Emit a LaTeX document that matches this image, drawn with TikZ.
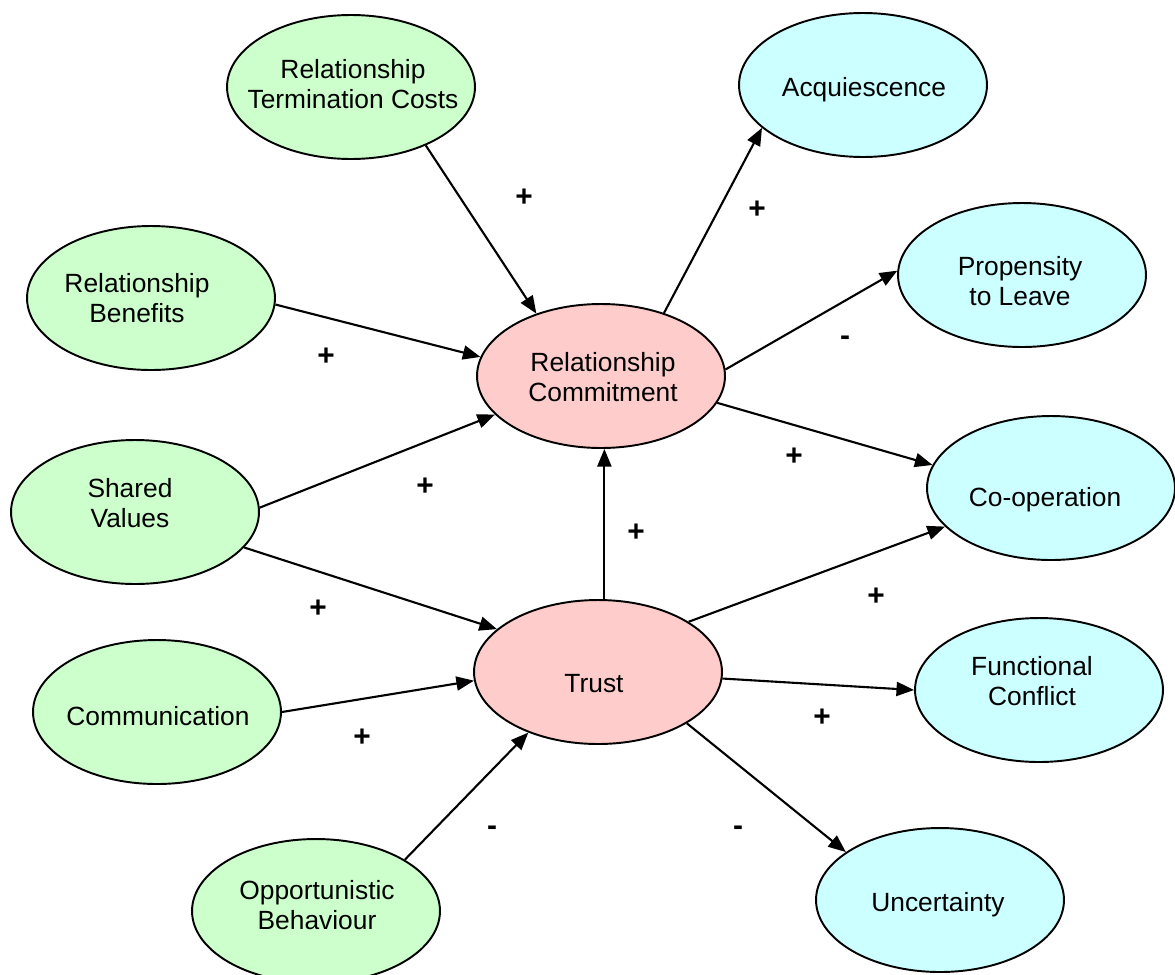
\documentclass[tikz,border=0pt]{standalone}
\usepackage{fontspec}
\setmainfont{Liberation Sans}
\usetikzlibrary{arrows.meta,shapes.geometric}
\definecolor{antgreen}{HTML}{CCFFCC}
\definecolor{corepink}{HTML}{FFCCCC}
\definecolor{outcyan}{HTML}{CCFFFF}
\begin{document}
\begin{tikzpicture}[x=0.02cm,y=-0.02cm,
  bubble/.style={ellipse,draw=black,line width=1.1pt,minimum width=4.96cm,minimum height=2.88cm,inner sep=0pt},
  antecedent/.style={bubble,fill=antgreen},
  mediator/.style={bubble,fill=corepink},
  outcome/.style={bubble,fill=outcyan},
  caption/.style={align=center,inner sep=0pt,font=\fontsize{15}{17.5}\selectfont},
  sign/.style={inner sep=0pt,font=\bfseries\fontsize{17}{19}\selectfont},
  link/.style={line width=1.2pt,-{Triangle[length=10pt,width=8pt]}}
]
\useasboundingbox (0,0) rectangle (1175,974);

% antecedents
\node[antecedent] (rtc)   at (351,87)  {};
\node[antecedent] (rb)    at (151,298) {};
\node[antecedent] (sv)    at (135,512) {};
\node[antecedent] (comm)  at (157,712) {};
\node[antecedent] (ob)    at (316,911) {};
% key mediating variables
\node[mediator]   (rc)    at (601,376) {};
\node[mediator]   (trust) at (598,672) {};
% outcomes
\node[outcome]    (acq)   at (863,85)  {};
\node[outcome]    (ptl)   at (1022,275) {};
\node[outcome]    (coop)  at (1051,488) {};
\node[outcome]    (fc)    at (1039,690) {};
\node[outcome]    (unc)   at (940,900) {};

% captions
\node[caption] (rtc-t)   at (353,84)   {Relationship\\Termination Costs};
\node[caption] (rb-t)    at (137,298)  {Relationship\\Benefits};
\node[caption] (sv-t)    at (130,503)  {Shared\\Values};
\node[caption] (comm-t)  at (158,716)  {Communication};
\node[caption] (ob-t)    at (317,905)  {Opportunistic\\Behaviour};
\node[caption] (rc-t)    at (603,377)  {Relationship\\Commitment};
\node[caption] (trust-t) at (594,684)  {Trust};
\node[caption] (acq-t)   at (864,90)   {Acquiescence};
\node[caption] (ptl-t)   at (1020,281) {Propensity\\to Leave};
\node[caption] (coop-t)  at (1045,500) {Co-operation};
\node[caption] (fc-t)    at (1032,681) {Functional\\Conflict};
\node[caption] (unc-t)   at (938,905)  {Uncertainty};

% links into relationship commitment
\draw[link] (rtc.-38) -- (rc.136);
\draw[link] (rb.-3) -- (rc.171);
\draw[link] (sv.2) -- (rc.200);
\draw[link] (trust.85) -- (trust.85 |- rc.south);
% links into trust
\draw[link] (sv.-18) -- (trust.157);
\draw[link] (comm.0) -- (trust.184);
\draw[link] (ob.30) -- (trust.221);
% links out of relationship commitment
\draw[link] (rc.45) -- (acq.203);
\draw[link] (rc.3) -- (ptl.178);
\draw[link] (rc.-13) -- (coop.169);
% links out of trust
\draw[link] (trust.29) -- (coop.200);
\draw[link] (trust.-3) -- (fc.180);
\draw[link] (trust.-30) -- (unc.153);

% signs
\node[sign] (s1)  at (524,198) {+};
\node[sign] (s2)  at (757,210) {+};
\node[sign] (s3)  at (326,357) {+};
\node[sign] (s4)  at (845,341) {-};
\node[sign] (s5)  at (425,487) {+};
\node[sign] (s6)  at (794,457) {+};
\node[sign] (s7)  at (636,533) {+};
\node[sign] (s8)  at (318,609) {+};
\node[sign] (s9)  at (876,597) {+};
\node[sign] (s10) at (822,718) {+};
\node[sign] (s11) at (362,738) {+};
\node[sign] (s12) at (492,831) {-};
\node[sign] (s13) at (738,831) {-};
\end{tikzpicture}
\end{document}
